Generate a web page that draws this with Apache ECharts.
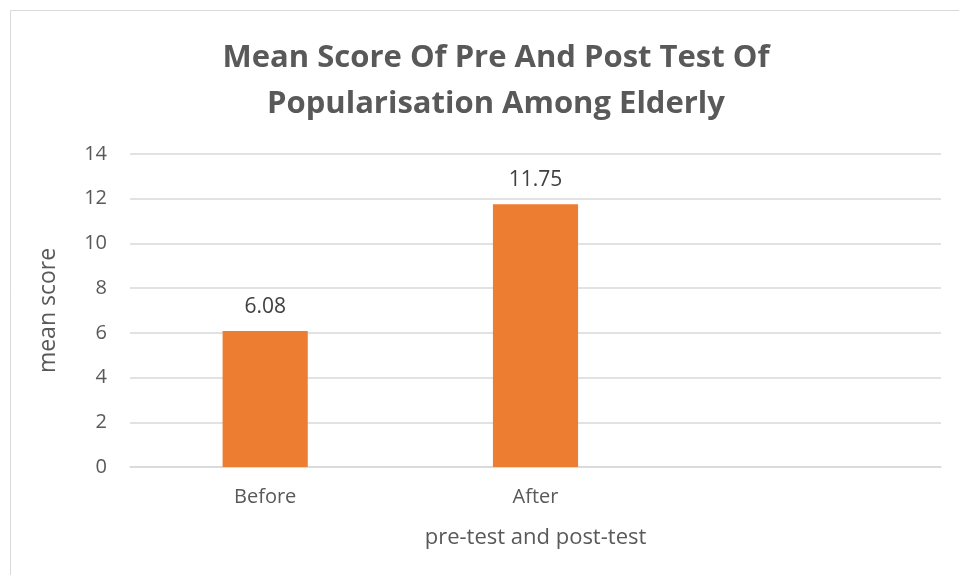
<!DOCTYPE html>
<html>
<head>
<meta charset="utf-8">
<script src="https://cdn.jsdelivr.net/npm/echarts@6/dist/echarts.min.js"></script>
<style>
  html, body { margin: 0; padding: 0; background: #fff; }
  #chart { width: 959px; height: 575px; }
</style>
</head>
<body>
<div id="chart"></div>
<script>
var categories = ['Before', 'After', ''];
var meanScores = [6.08, 11.75, '-'];
var yTicks = [0, 2, 4, 6, 8, 10, 12, 14];

var myChart = echarts.init(document.getElementById('chart'));
var font = '"Open Sans", "Noto Sans", sans-serif';

myChart.setOption({
    animation: false,
    graphic: [{
        type: 'rect',
        shape: {x: 10.5, y: 10.5, width: 960, height: 580},
        style: {fill: 'none', stroke: '#d9d9d9', lineWidth: 1},
        silent: true
    }],
    title: {
        text: 'Mean Score Of Pre And Post Test Of\nPopularisation Among Elderly',
        left: 491,
        top: 30,
        textAlign: 'center',
        textStyle: {
            fontFamily: font,
            fontSize: 31,
            fontWeight: 'bold',
            color: '#595959',
            lineHeight: 46
        }
    },
    grid: {left: 130, right: 18, top: 154, bottom: 108},
    xAxis: {
        type: 'category',
        data: categories,
        name: 'pre-test and post-test',
        nameLocation: 'middle',
        nameGap: 60,
        nameTextStyle: {fontFamily: font, fontSize: 22, color: '#595959'},
        axisLine: {lineStyle: {color: '#d9d9d9', width: 1.5}},
        axisTick: {show: false},
        axisLabel: {fontFamily: font, fontSize: 20, color: '#595959', margin: 20}
    },
    yAxis: {
        type: 'value',
        min: 0,
        max: 14,
        interval: 2,
        name: 'mean score',
        nameLocation: 'middle',
        nameGap: 70,
        nameRotate: 90,
        nameTextStyle: {fontFamily: font, fontSize: 23, color: '#595959'},
        axisLine: {show: false},
        axisTick: {show: false},
        splitLine: {lineStyle: {color: '#d9d9d9', width: 1.5}},
        axisLabel: {
            fontFamily: font, fontSize: 20, color: '#595959', margin: 23,
            formatter: function (v) { return yTicks.indexOf(v) >= 0 ? String(v) : ''; }
        }
    },
    series: [{
        name: 'mean score',
        type: 'bar',
        data: meanScores,
        barWidth: '31.5%',
        itemStyle: {color: '#ed7d31'},
        label: {
            show: true,
            position: 'top',
            distance: 14,
            fontFamily: font,
            fontSize: 21,
            color: '#404040'
        }
    }]
});
</script>
</body>
</html>
